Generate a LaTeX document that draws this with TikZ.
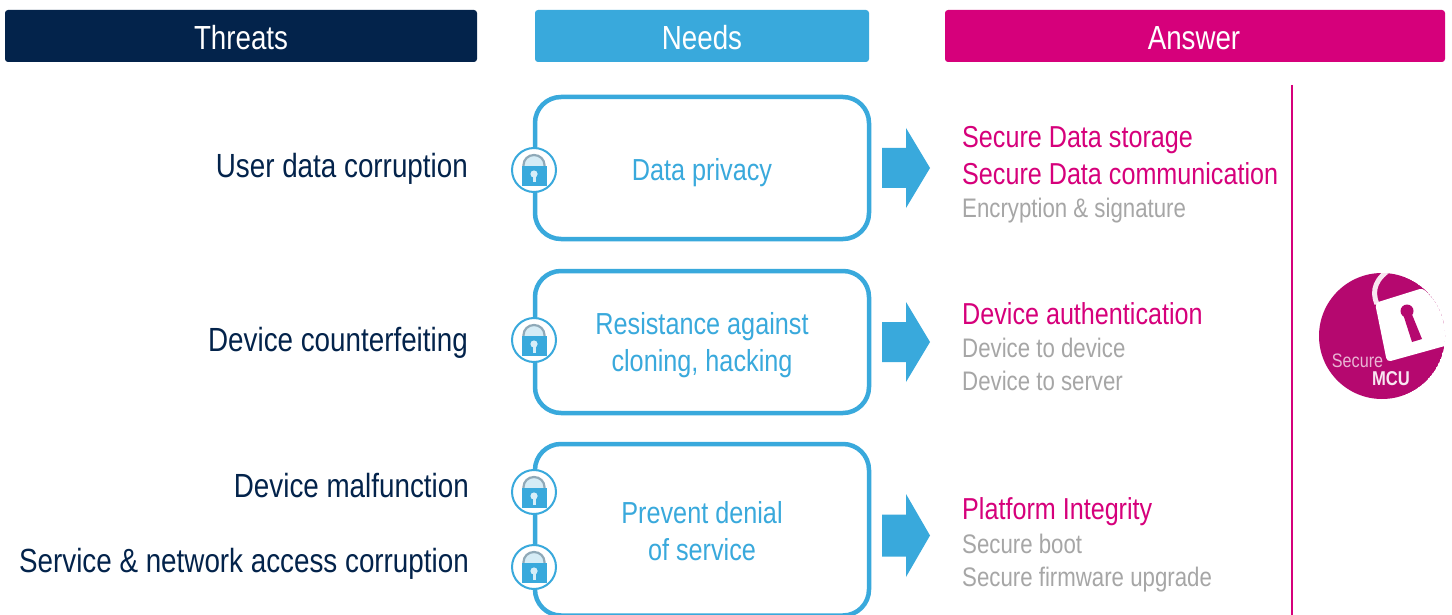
\documentclass[tikz,border=0pt]{standalone}
\usepackage{fontspec}
\setmainfont[FakeStretch=0.83]{Liberation Sans}
\definecolor{navy}{HTML}{03234B}
\definecolor{skyb}{HTML}{39A9DC}
\definecolor{pinkm}{HTML}{D6007B}
\definecolor{greyt}{HTML}{A6A6A6}
\definecolor{mcubg}{HTML}{B5086F}
\definecolor{shackle}{HTML}{8FA9B8}
\definecolor{shacklein}{HTML}{D5ECF6}
\newcommand{\fsz}[1]{\fontsize{#1}{#1}\selectfont}
\tikzset{
  x=1pt,y=-1pt,
  headtxt/.style={anchor=base,inner sep=0pt,text=white,font=\fsz{33.4}},
  threat/.style={anchor=base east,text=navy,inner sep=0pt,font=\fsz{33.5}},
  needbox/.style={draw=skyb,line width=4.5pt,rounded corners=26pt,fill=white},
  needtxt/.style={anchor=base,text=skyb,inner sep=0pt,font=\fsz{30.4}},
  anspink/.style={anchor=base west,text=pinkm,inner sep=0pt,font=\fsz{30.3}},
  ansgrey/.style={anchor=base west,text=greyt,inner sep=0pt,font=\fsz{26.8}},
  blockarrow/.style={fill=skyb,draw=none},
}
\newcommand{\padlock}[3]{% name, x, y
  \node[circle,draw=skyb,line width=2pt,fill=white,minimum size=44pt,inner sep=0pt] (#1) at (#2,#3) {};
  \begin{scope}[shift={(#2,#3)}]
    \draw[line width=2.2pt,color=shackle,fill=shacklein] (-10.5,-2) -- (-10.5,-5) arc[start angle=180,end angle=0,x radius=10.5,y radius=-10] -- (10.5,-2) -- cycle;
    \fill[skyb] (-12.5,-4) rectangle (12.5,16);
    \fill[white!80!skyb] (0,4) circle (3.6);
    \fill[white!80!skyb] (-1.5,5) rectangle (1.5,12.5);
  \end{scope}
}
\newcommand{\blockarr}[3]{%
  \fill[blockarrow] (882,#1-#3) -- (906,#1-#3) -- (906,#1-#2) -- (930,#1) -- (906,#1+#2) -- (906,#1+#3) -- (882,#1+#3) -- cycle;
}
\begin{document}
\begin{tikzpicture}
\useasboundingbox (0,0) rectangle (1452,615);
\clip (0,0) rectangle (1452,615);
\fill[white] (0,0) rectangle (1452,615);
% headers
\fill[navy,rounded corners=3pt] (5,10) rectangle (477,62);
\fill[skyb,rounded corners=3pt] (535,10) rectangle (869,62);
\fill[pinkm,rounded corners=3pt] (945,10) rectangle (1445,62);
\node[headtxt] (hthreats) at (241,50) {Threats};
\node[headtxt] (hneeds) at (702,50) {Needs};
\node[headtxt] (hanswer) at (1194,50) {Answer};
% threats
\node[threat] (t1) at (468,178) {User data corruption};
\node[threat] (t2) at (468,351) {Device counterfeiting};
\node[threat] (t3) at (469,497) {Device malfunction};
\node[threat] (t4) at (469,572) {Service \& network access corruption};
% need boxes
\draw[needbox] (535,97) rectangle (869,239);
\draw[needbox] (535,271) rectangle (869,413);
\draw[needbox] (535,444) rectangle (869,615.5);
\node[needtxt] (n1) at (702,181) {Data privacy};
\node[needtxt] (n2a) at (702,334) {Resistance against};
\node[needtxt] (n2b) at (702,371) {cloning, hacking};
\node[needtxt] (n3a) at (702,523) {Prevent denial};
\node[needtxt] (n3b) at (702,560) {of service};
% padlocks
\padlock{l1}{534}{170}
\padlock{l2}{534}{340}
\padlock{l3}{534}{492}
\padlock{l4}{534}{567}
% arrows
\blockarr{168}{40}{20}
\blockarr{342}{40}{20}
\blockarr{535.5}{41.5}{21}
% answers
\node[anspink] (a1) at (962,148) {Secure Data storage};
\node[anspink] (a2) at (962,185) {Secure Data communication};
\node[ansgrey] (a3) at (962,218) {Encryption \& signature};
\node[anspink] (a4) at (962,324) {Device authentication};
\node[ansgrey] (a5) at (962,357) {Device to device};
\node[ansgrey] (a6) at (962,390) {Device to server};
\node[anspink] (a7) at (962,519) {Platform Integrity};
\node[ansgrey] (a8) at (962,553) {Secure boot};
\node[ansgrey] (a9) at (962,586) {Secure firmware upgrade};
% divider
\draw[pinkm,line width=2pt] (1291.5,85) -- (1291.5,615);
% MCU badge
\begin{scope}
  \clip (1382,336) circle (63);
  \fill[mcubg] (1382,336) circle (63);
  \draw[white!90!mcubg,line width=5pt] (1377,304) .. controls (1371,290) and (1376,278) .. (1392,268);
  \fill[white,rounded corners=4pt] (1375,303) -- (1423,288) -- (1475,345) -- (1470,339) -- (1387,362) -- cycle;
  \fill[mcubg] (1407,311) circle (6.5);
  \fill[mcubg] (1403,314) -- (1411,312) -- (1422,339) -- (1412,342) -- cycle;
\end{scope}
\node[anchor=base,inner sep=0pt,text=white!70!mcubg,font=\fsz{19.5}] (sec) at (1357.5,367) {Secure};
\node[anchor=base,inner sep=0pt,text=white!90!mcubg,font=\bfseries\fsz{20}] (mcu) at (1391,385) {MCU};
\end{tikzpicture}
\end{document}
